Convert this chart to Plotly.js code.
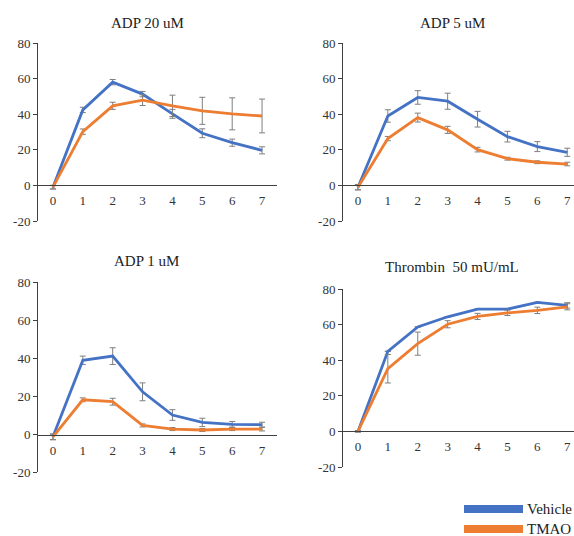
<!DOCTYPE html>
<html>
<head>
<meta charset="utf-8">
<script src="https://cdn.plot.ly/plotly-3.0.1.min.js"></script>
<style>html,body{margin:0;padding:0;background:#fff;}#chart{width:574px;height:536px;}</style>
</head>
<body>
<div id="chart"></div>
<script>
// ---- data ----
const timePoints = [0, 1, 2, 3, 4, 5, 6, 7];
const xTickLabels = ["0", "1", "2", "3", "4", "5", "6", "7"];
const yTickVals = [-20, 0, 20, 40, 60, 80];
const yTickLabels = ["-20", "0", "20", "40", "60", "80"];
const panelTitles = ["ADP 20 uM", "ADP 5 uM", "ADP 1 uM", "Thrombin  50 mU/mL"];
const seriesNames = ["Vehicle", "TMAO"];

const adp20Vehicle = [-1, 42.4, 58, 51.3, 40.2, 29.3, 24, 19.7];
const adp20VehicleErr = [1, 1.5, 1.5, 1.5, 2.5, 2.5, 2, 2];
const adp20Tmao = [-1, 30.2, 44.7, 47.9, 44.7, 41.9, 40.2, 39];
const adp20TmaoErr = [1, 1.5, 2, 3, 6, 7.6, 9, 9.5];

const adp5Vehicle = [-1, 39, 49.4, 47.3, 37.2, 27.4, 21.8, 18.6];
const adp5VehicleErr = [1.5, 3.5, 3.8, 4.5, 4.4, 3, 2.8, 2.3];
const adp5Tmao = [-1, 26.3, 38.1, 31.2, 20.1, 15, 13, 12];
const adp5TmaoErr = [1.5, 1.2, 2.5, 2, 1.3, 0.8, 0.8, 1];

const adp1Vehicle = [-1.5, 38.8, 41, 22.2, 10, 6.1, 5.1, 4.9];
const adp1VehicleErr = [1.5, 2.2, 4.4, 4.7, 2.8, 2.2, 1.5, 1.3];
const adp1Tmao = [-1.5, 18, 17, 4.5, 2.6, 2.1, 2.6, 2.6];
const adp1TmaoErr = [1.5, 1, 1.8, 0.8, 0.8, 0.8, 0.8, 1];

const thrombinVehicle = [0, 45, 58.7, 64.4, 68.7, 68.7, 72.5, 70.8];
const thrombinVehicleErr = [0, 0, 0, 0, 0, 0, 0, 1.5];
const thrombinTmao = [0, 35.2, 49.3, 60.2, 64.6, 66.6, 68, 70];
const thrombinTmaoErr = [0.5, 8, 6.5, 2, 1.7, 1.5, 1.8, 1.7];

// ---- styling ----
const W = 574, H = 536;
const BLUE = "#4472C4", ORANGE = "#ED7D31", ERR = "#7f7f7f", AX = "#404040";
const FONT = "Liberation Serif, Times New Roman, serif";

const panels = [
  {v: adp20Vehicle, ve: adp20VehicleErr, t: adp20Tmao, te: adp20TmaoErr},
  {v: adp5Vehicle, ve: adp5VehicleErr, t: adp5Tmao, te: adp5TmaoErr},
  {v: adp1Vehicle, ve: adp1VehicleErr, t: adp1Tmao, te: adp1TmaoErr},
  {v: thrombinVehicle, ve: thrombinVehicleErr, t: thrombinTmao, te: thrombinTmaoErr}
];

const geo = [
  {xl: 38, xr: 277, yt: 43, yb: 221, yz: 185, xmax: 7.5, tx: 147, ty: 23},
  {xl: 343, xr: 574, yt: 43, yb: 221, yz: 185, xmax: 7.226, tx: 452, ty: 23},
  {xl: 38, xr: 277, yt: 282, yb: 472, yz: 435, xmax: 7.5, tx: 146, ty: 261},
  {xl: 343, xr: 574, yt: 289, yb: 467, yz: 431, xmax: 7.226, tx: 452, ty: 267}
];

const traces = [];
const layout = {
  width: W, height: H,
  margin: {l: 0, r: 0, t: 0, b: 0},
  paper_bgcolor: "#fff", plot_bgcolor: "#fff",
  showlegend: false,
  font: {family: FONT, color: "#333", size: 13},
  annotations: [], shapes: []
};

panels.forEach((p, i) => {
  const n = i + 1;
  const xa = "x" + (n === 1 ? "" : n), ya = "y" + (n === 1 ? "" : n);
  const g = geo[i];
  [[p.v, p.ve, BLUE, seriesNames[0]], [p.t, p.te, ORANGE, seriesNames[1]]].forEach(s => {
    traces.push({
      type: "scatter", mode: "lines", x: timePoints, y: s[0], name: s[3],
      xaxis: xa, yaxis: ya, cliponaxis: false,
      line: {color: s[2], width: 2.8},
      error_y: {type: "data", array: s[1], visible: true, color: ERR, thickness: 1, width: 3}
    });
  });
  layout["xaxis" + (n === 1 ? "" : n)] = {
    domain: [g.xl / W, g.xr / W], range: [-0.5, g.xmax],
    anchor: "free", position: (H - g.yz) / H,
    showline: true, linecolor: AX, linewidth: 1,
    showgrid: false, zeroline: false, ticks: "",
    tickvals: timePoints, ticktext: xTickLabels,
    tickfont: {family: FONT, size: 13, color: "#333"}, ticklabelstandoff: 3,
    fixedrange: true
  };
  layout["yaxis" + (n === 1 ? "" : n)] = {
    domain: [(H - g.yb) / H, (H - g.yt) / H], range: [-20, 80],
    anchor: xa,
    showline: true, linecolor: AX, linewidth: 1,
    showgrid: false, zeroline: false, ticks: "outside", ticklen: 4, tickcolor: AX,
    tickvals: yTickVals, ticktext: yTickLabels,
    tickfont: {family: FONT, size: 13, color: "#333"},
    fixedrange: true
  };
  layout.annotations.push({
    text: panelTitles[i], xref: "paper", yref: "paper",
    x: g.tx / W, y: (H - g.ty) / H, xanchor: "center", yanchor: "middle",
    showarrow: false, font: {family: FONT, size: 15, color: "#222"}
  });
});

// legend (drawn manually)
const legendItems = [{name: seriesNames[0], color: BLUE, y: 509}, {name: seriesNames[1], color: ORANGE, y: 529}];
legendItems.forEach(it => {
  layout.shapes.push({
    type: "rect", xref: "paper", yref: "paper",
    x0: 464 / W, x1: 523 / W, y0: (H - it.y - 4) / H, y1: (H - it.y + 4) / H,
    fillcolor: it.color, line: {width: 0}
  });
  layout.annotations.push({
    text: it.name, xref: "paper", yref: "paper",
    x: 525 / W, y: (H - it.y) / H, xanchor: "left", yanchor: "middle",
    showarrow: false, font: {family: FONT, size: 15, color: "#222"}
  });
});

Plotly.newPlot("chart", traces, layout, {staticPlot: true, displayModeBar: false});
</script>
</body>
</html>
